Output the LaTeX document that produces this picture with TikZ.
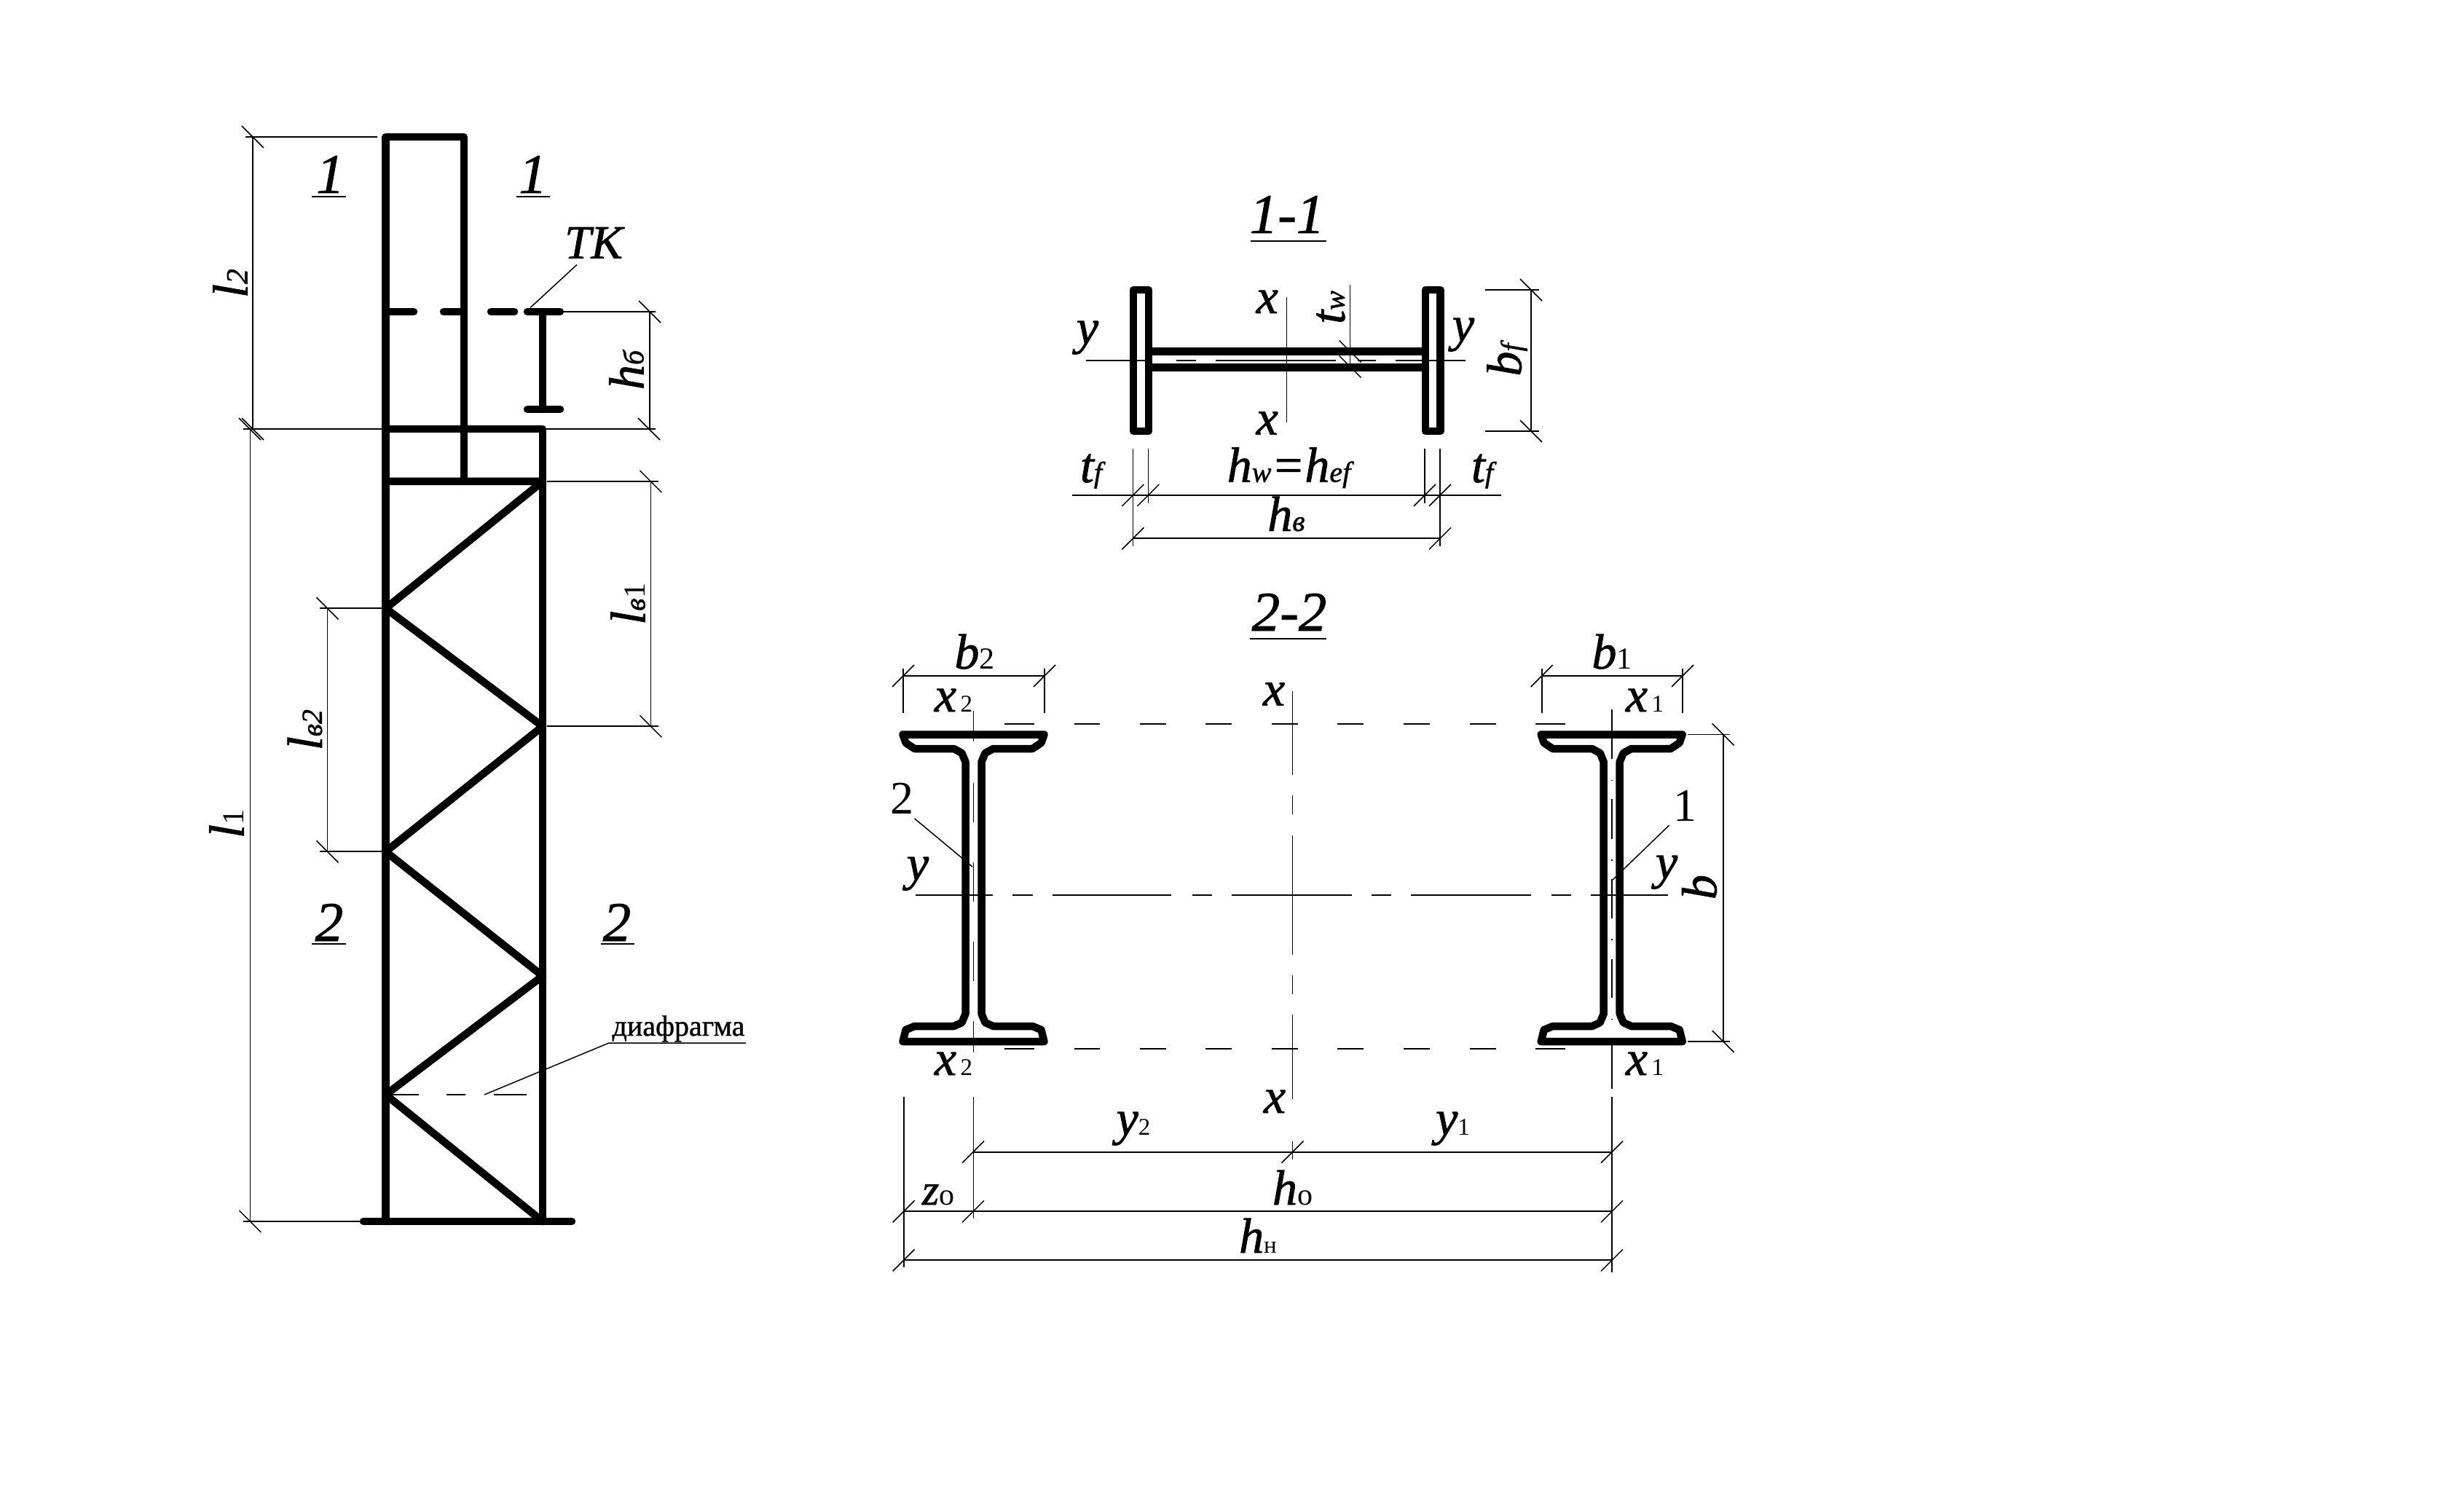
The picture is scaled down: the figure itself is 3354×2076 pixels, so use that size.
\documentclass[tikz,border=0pt]{standalone}
\usepackage{fontspec}
\setmainfont[ItalicFeatures={FakeBold=1.2}]{Liberation Serif}
\newfontfamily\heavyup[FakeBold=1]{Liberation Serif}
\newcommand\sz[1]{\fontsize{#1}{#1}\selectfont}
\newcommand\mi[1]{{\sz{13.6}\itshape #1}}
\newcommand\subA[1]{{\sz{8.4}\upshape #1}}
\newcommand\subB[1]{{\sz{6.6}\upshape #1}}
\newcommand\subI[1]{{\sz{8.0}\itshape #1}}
\newcommand\tickd[1]{\draw[tickln] (#1) +(-15,-15) -- +(15,15);}
\newcommand\ticku[1]{\draw[tickln] (#1) +(-15,15) -- +(15,-15);}
\newcommand\ibeam[1]{\begin{scope}[shift={(#1,0)}]
\draw[heavy] (-97,1008.5) -- (-93,1020) -- (-81,1028) -- (-27,1028) -- (-16,1034) -- (-11,1046)
 -- (-11,1392) -- (-16,1404) -- (-27,1409) -- (-81,1409) -- (-93,1414) -- (-97,1430)
 -- (97,1430) -- (93,1414) -- (81,1409) -- (27,1409) -- (16,1404) -- (11,1392)
 -- (11,1046) -- (16,1034) -- (27,1028) -- (81,1028) -- (93,1020) -- (97,1008.5) -- cycle;
\end{scope}}
\begin{document}
\begin{tikzpicture}[x=0.2pt,y=-0.2pt,
  heavy/.style={line width=2.1pt,line cap=round,line join=round},
  dimln/.style={line width=0.35pt},
  tickln/.style={line width=0.3pt},
  axisln/.style={line width=0.32pt},
  lbl/.style={inner sep=0pt,anchor=base},
  vlbl/.style={inner sep=0pt,anchor=center,rotate=90}]
\useasboundingbox (0,0) rectangle (3354,2076);
% ---------- column ----------
\draw[heavy] (529.5,1677) -- (529.5,188) -- (637,188) -- (637,661);
\draw[heavy] (529.5,589) -- (745,589) -- (745,1677);
\draw[heavy] (529.5,661) -- (745,661) -- (529.5,835.3) -- (745,997.3) -- (529.5,1169.3) -- (745,1340) -- (529.5,1503) -- (745,1677);
\draw[heavy] (499,1677) -- (785,1677);
\foreach \a/\b in {529.5/568,609/637,674/706,724/769} \draw[heavy] (\a,428) -- (\b,428);
\draw[heavy] (745,428) -- (745,562);
\draw[heavy] (724,562) -- (769,562);
\foreach \a/\b in {538/575,613/639,678/723} \draw[axisln] (\a,1503) -- (\b,1503);
% column dimensions
\draw[dimln] (337,188) -- (518,188);
\draw[dimln] (334,589) -- (525,589);
\draw[dimln] (334,1677) -- (494,1677);
\draw[dimln] (347,188) -- (347,589);
\draw[dimln] (343.4,589) -- (343.4,1677);
\tickd{347,188} \tickd{347,589} \tickd{343,589} \tickd{343.4,1677}
\draw[dimln] (774,428) -- (900,428);
\draw[dimln] (749,589) -- (900,589);
\draw[dimln] (892,428) -- (892,589);
\tickd{892,428} \tickd{891,589}
\draw[dimln] (751,661) -- (903.7,661);
\draw[dimln] (751,997.3) -- (903.7,997.3);
\draw[dimln] (893.4,661) -- (893.4,997.3);
\tickd{893.4,661} \tickd{893.4,997.3}
\draw[dimln] (439,835.3) -- (525,835.3);
\draw[dimln] (439,1169.3) -- (525,1169.3);
\draw[dimln] (449.6,835.3) -- (449.6,1169.3);
\tickd{449.6,835.3} \tickd{449.6,1169.3}
% column labels
\node[lbl] (labA) at (453.5,265) {\sz{15.4}\itshape 1};
\node[lbl] (labB) at (731.5,265) {\sz{15.4}\itshape 1};
\draw[dimln] (428,270) -- (475,270);
\draw[dimln] (708.6,270) -- (754.5,270);
\node[lbl] (labC) at (452,1292) {\sz{15.4}\itshape 2};
\node[lbl] (labD) at (847,1292) {\sz{15.4}\itshape 2};
\draw[dimln] (428,1296) -- (475,1296);
\draw[dimln] (824.6,1296) -- (870.6,1296);
\node[lbl] (labTK) at (815,354.7) {\sz{13}\itshape ТК};
\draw[tickln] (792,363.5) -- (728,422.5);
\node[vlbl] (labl2) at (316,389) {\mi{l}\subA{\itshape 2}};
\node[vlbl] (labh6) at (860,508) {\mi{h}\subI{б}};
\node[vlbl] (labl1) at (311,1131) {\mi{l}\subA{1}};
\node[vlbl] (labv1) at (862,829) {\mi{l}\subI{в}\subA{1}};
\node[vlbl] (labv2) at (418.5,1002) {\mi{l}\subI{в2}};
\node[lbl] (labdia) at (931.5,1422) {\sz{8}\heavyup диафрагма};
\draw[tickln] (665,1503) -- (836,1432) -- (1024,1432);
% ---------- section 1-1 ----------
\node[lbl] (title1) at (1767,320) {\sz{15.4}\itshape 1-1};
\draw[dimln] (1716.5,331) -- (1820.5,331);
\draw[heavy] (1556,398) rectangle (1577,592);
\draw[heavy] (1957,398) rectangle (1977.7,592);
\draw[heavy] (1577,482.3) -- (1957,482.3);
\draw[heavy] (1577,504.3) -- (1957,504.3);
\foreach \a/\b in {1491/1572,1615/1642,1669/1834,1864/1889,1916/2011.6} \draw[axisln] (\a,495) -- (\b,495);
\draw[axisln] (1766.5,408) -- (1766.5,580);
\node[lbl] (x1a) at (1739.7,430) {\mi{x}};
\node[lbl] (x1b) at (1739.7,596.7) {\mi{x}};
\node[lbl] (y1a) at (1493,472) {\mi{y}};
\node[lbl] (y1b) at (2009,468) {\mi{y}};
\node[vlbl] (tw) at (1827,422) {\mi{t}\subI{w}};
\draw[axisln] (1853.6,391) -- (1853.6,500);
\tickd{1853.6,482.5} \tickd{1853.6,503.5}
\draw[dimln] (2039,398) -- (2113,398);
\draw[dimln] (2039,592) -- (2113,592);
\draw[dimln] (2102,398) -- (2102,592);
\tickd{2102,398} \tickd{2102,592}
\node[vlbl] (bf) at (2069,494) {\mi{b}\subI{f}};
\foreach \x in {1576.3,1956} \draw[axisln] (\x,616) -- (\x,690.7);
\foreach \x in {1555.4,1977} \draw[axisln] (\x,616) -- (\x,750);
\draw[dimln] (1472,680) -- (2060.7,680);
\draw[dimln] (1555.4,739.3) -- (1977,739.3);
\foreach \x in {1555.4,1576.3,1956,1977} {\ticku{\x,680}}
\foreach \x in {1555.4,1977} {\ticku{\x,739.3}}
\node[lbl] (tfa) at (1498,662) {\mi{t}\subI{f}};
\node[lbl] (tfb) at (2035,662) {\mi{t}\subI{f}};
\node[lbl] (hw) at (1769.5,661.7) {\mi{h}\subI{w}\mi{=h}\subI{ef}};
\node[lbl] (hv) at (1766,729) {\mi{h}\subI{в}};
% ---------- section 2-2 ----------
\node[lbl] (title2) at (1770,866) {\sz{15.4}\itshape 2-2};
\draw[dimln] (1716,877) -- (1820.7,877);
\ibeam{1336.5}
\ibeam{2212.7}
\foreach \yy in {994,1440} {
  \foreach \a/\b in {1378.5/1420,1474.5/1510,1564.6/1601,1655/1691,1746/1781.6,1836/1872,1927/1963,2018/2054,2108/2149}
    \draw[axisln] (\a,\yy) -- (\b,\yy);
}
\foreach \a/\b in {1257/1363,1390/1418,1445/1608,1637/1664,1691/1856,1883/1910,1937/2101.7,2130/2157,2184/2290}
  \draw[axisln] (\a,1229) -- (\b,1229);
\foreach \a/\b in {949/1064,1092/1118,1147/1310.6,1339/1365,1393/1509,1567/1592}
  \draw[axisln] (1774.5,\a) -- (1774.5,\b);
\foreach \a/\b in {976/1018,1074.6/1129,1184/1237.5,1293/1347,1402/1445,1506/1673}
  \draw[axisln] (1336.5,\a) -- (1336.5,\b);
\foreach \a/\b in {974/1042,1097/1151.5,1207/1261,1317/1370,1435/1495,1506/1747}
  \draw[axisln] (2212.7,\a) -- (2212.7,\b);
\foreach \a in {1070.5,1180,1289,1398.6} \draw[axisln] (2212.7,\a) -- (2212.7,\a+1.5);
\draw[axisln] (1240.7,1506) -- (1240.7,1740);
% b1, b2
\foreach \x in {1240,1434,2116.7,2310} {\draw[axisln] (\x,918) -- (\x,979); \ticku{\x,928}}
\draw[dimln] (1240,928) -- (1434,928);
\draw[dimln] (2116.7,928) -- (2310,928);
\node[lbl] (b2) at (1338,918) {\mi{b}\subA{2}};
\node[lbl] (b1) at (2213,918) {\mi{b}\subA{1}};
\node[lbl] (xt2) at (1309,977) {\mi{x}\subB{\,2}};
\node[lbl] (xt1) at (2258,977) {\mi{x}\subB{\,1}};
\node[lbl] (xb2) at (1309,1476) {\mi{x}\subB{\,2}};
\node[lbl] (xb1) at (2258,1476) {\mi{x}\subB{\,1}};
\node[lbl] (xct) at (1749,968.7) {\mi{x}};
\node[lbl] (xcb) at (1750,1528) {\mi{x}};
\node[lbl] (n2) at (1238.5,1117.7) {\sz{12.8}2};
\node[lbl] (n1) at (2313,1127) {\sz{12.8}1};
\draw[tickln] (1255.7,1124) -- (1335,1190);
\draw[tickln] (2291.7,1133) -- (2214,1208);
\node[lbl] (yl) at (1260,1208) {\mi{y}};
\node[lbl] (yr) at (2288,1206) {\mi{y}};
% b
\draw[dimln] (2316.7,1008.5) -- (2375,1008.5);
\draw[dimln] (2316.7,1430) -- (2375,1430);
\draw[dimln] (2365.7,1008.5) -- (2365.7,1430);
\tickd{2365.7,1008.5} \tickd{2365.7,1430}
\node[vlbl] (bb) at (2333,1218) {\mi{b}};
% lower dims
\draw[dimln] (1336,1581.7) -- (2213,1581.7);
\draw[dimln] (1240.7,1663.3) -- (2213,1663.3);
\draw[dimln] (1240.7,1730.3) -- (2213,1730.3);
\foreach \x in {1336,1774.5,2213} {\ticku{\x,1581.7}}
\foreach \x in {1240.7,1336,2213} {\ticku{\x,1663.3}}
\foreach \x in {1240.7,2213} {\ticku{\x,1730.3}}
\node[lbl] (y2) at (1556,1558) {\mi{y}\subB{2}};
\node[lbl] (y1) at (1994.5,1558) {\mi{y}\subB{1}};
\node[lbl] (zo) at (1288,1654) {{\sz{12}\itshape z}\subA{o}};
\node[lbl] (ho) at (1774.5,1654) {\mi{h}\subA{o}};
\node[lbl] (hn) at (1727,1720) {\mi{h}\subB{н}};
\end{tikzpicture}
\end{document}
